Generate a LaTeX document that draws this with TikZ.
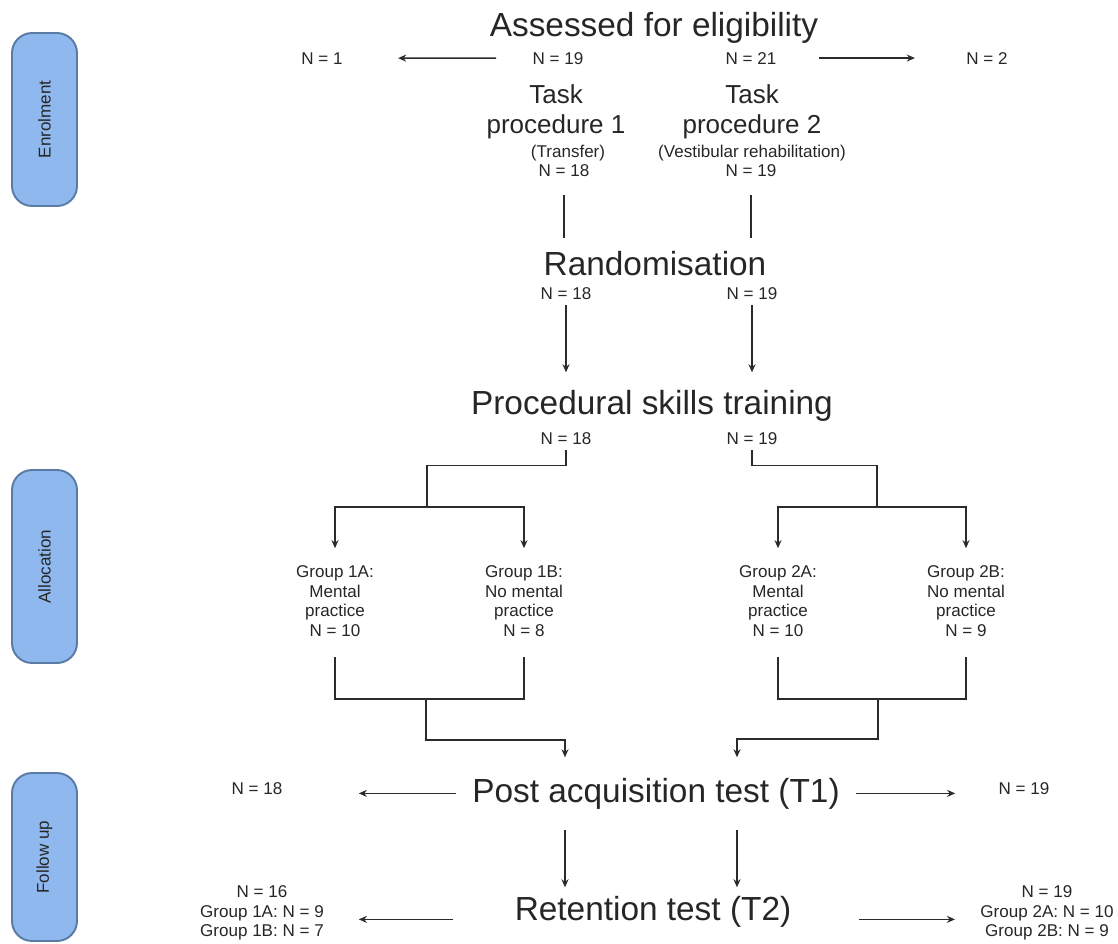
\documentclass[tikz,border=0pt]{standalone}
\usepackage{fontspec}
\setmainfont{Liberation Sans}
\usetikzlibrary{arrows.meta}

\definecolor{testo}{HTML}{262626}
\definecolor{linea}{HTML}{2B2B2B}
\definecolor{fasefill}{HTML}{8FB8EE}
\definecolor{fasebordo}{HTML}{5A7BA3}

\begin{document}
\begin{tikzpicture}[x=0.02cm, y=-0.02cm,
  every node/.style={inner sep=0pt, outer sep=0pt, text=testo},
  big/.style={font=\fontsize{19}{22}\selectfont},
  mid/.style={font=\fontsize{14.8}{17.1}\selectfont, align=center},
  num/.style={font=\fontsize{9.7}{11.1}\selectfont},
  lst/.style={num, align=center},
  phasebox/.style={num, rotate=90, draw=fasebordo, fill=fasefill, line width=1.1pt, rounded corners=0.4cm, minimum height=1.3cm},
  linea/.style={draw=linea, line width=0.75pt},
  arr/.style={linea, -{Stealth[length=4.6pt,width=4pt]}}]

\useasboundingbox (0,0) rectangle (1118,943);

% fasi
\node[phasebox, minimum width=3.46cm] (enrol) at (44.5,119.5) {Enrolment};
\node[phasebox, minimum width=3.86cm] (alloc) at (44.5,566.5) {Allocation};
\node[phasebox, minimum width=3.36cm] (follow) at (44.5,857) {Follow up};

\node[big, anchor=base] (assess) at (654,36) {Assessed for eligibility};
\node[num, anchor=base] (an1) at (558,64) {N = 19};
\node[num, anchor=base] (an2) at (751,64) {N = 21};
\node[num, anchor=base] (ex1) at (322,64) {N = 1};
\node[num, anchor=base] (ex2) at (987,64) {N = 2};

\node[mid] (task1) at (556,112) {Task\\procedure 1};
\node[num] (t1sub) at (568,153) {(Transfer)};
\node[num, anchor=base] (t1n) at (564,176) {N = 18};
\node[mid] (task2) at (752,112) {Task\\procedure 2};
\node[num] (t2sub) at (752,153) {(Vestibular rehabilitation)};
\node[num, anchor=base] (t2n) at (751,176) {N = 19};

\node[big, anchor=base] (rand) at (655,275) {Randomisation};
\node[num, anchor=base] (rn1) at (566,299) {N = 18};
\node[num, anchor=base] (rn2) at (752,299) {N = 19};

\node[big, anchor=base] (proc) at (652,414) {Procedural skills training};
\node[num, anchor=base] (pn1) at (566,444) {N = 18};
\node[num, anchor=base] (pn2) at (752,444) {N = 19};

\node[lst] (g1a) at (335,601) {Group 1A:\\Mental\\practice\\N = 10};
\node[lst] (g1b) at (524,601) {Group 1B:\\No mental\\practice\\N = 8};
\node[lst] (g2a) at (778,601) {Group 2A:\\Mental\\practice\\N = 10};
\node[lst] (g2b) at (966,601) {Group 2B:\\No mental\\practice\\N = 9};

\node[big, anchor=base] (post) at (656,802) {Post acquisition test (T1)};
\node[num, anchor=base] (qn1) at (257,794) {N = 18};
\node[num, anchor=base] (qn2) at (1024,794) {N = 19};

\node[big, anchor=base] (ret) at (653,920) {Retention test (T2)};
\node[lst] (rl) at (262,913) {N = 16\\Group 1A: N = 9\\Group 1B: N = 7};
\node[lst] (rr) at (1047,913) {N = 19\\Group 2A: N = 10\\Group 2B: N = 9};

\coordinate (sp1) at (427,507);
\coordinate (sp2) at (877,507);
\coordinate (mg1) at (426,699);
\coordinate (mg2) at (878,699);
\coordinate (cl) at (565,0);
\coordinate (cr) at (737,0);

% Archi
\draw[arr, shorten <=0.73cm, shorten >=1.11cm] (an1.west) -- (ex1.east);
\draw[arr, shorten <=0.85cm, shorten >=1.03cm] (an2.east) -- (ex2.west);

\draw[linea, shorten <=0.38cm, shorten >=0.25cm] (t1n.south) -- (t1n.south |- rand.north);
\draw[linea, shorten <=0.38cm, shorten >=0.25cm] (t2n.south) -- (t2n.south |- rand.north);

\draw[arr, shorten <=0.12cm, shorten >=0.35cm] (rn1.south) -- (rn1.south |- proc.north);
\draw[arr, shorten <=0.12cm, shorten >=0.35cm] (rn2.south) -- (rn2.south |- proc.north);

\draw[linea] (pn1.south) ++(0,6) -- ++(0,15) -| (sp1);
\draw[arr, shorten >=0.35cm] (sp1) -| (g1a.north);
\draw[arr, shorten >=0.35cm] (sp1) -| (g1b.north);
\draw[linea] (pn2.south) ++(0,6) -- ++(0,15) -| (sp2);
\draw[arr, shorten >=0.35cm] (sp2) -| (g2a.north);
\draw[arr, shorten >=0.35cm] (sp2) -| (g2b.north);

\draw[linea] (g1a.south) ++(0,21) |- (mg1);
\draw[linea] (g1b.south) ++(0,21) |- (mg1);
\draw[arr, shorten >=0.41cm] (mg1) -- ++(0,41) -| (cl |- post.north);
\draw[linea] (g2a.south) ++(0,21) |- (mg2);
\draw[linea] (g2b.south) ++(0,21) |- (mg2);
\draw[arr, shorten >=0.41cm] (mg2) -- ++(0,40) -| (cr |- post.north);

\draw[arr, shorten <=0.32cm, shorten >=1.53cm] (post.west) -- (post.west -| qn1.east);
\draw[arr, shorten <=0.32cm, shorten >=0.87cm] (post.east) -- (post.east -| qn2.west);

\draw[arr, shorten <=0.42cm, shorten >=0.17cm] (cl |- post.south) -- (cl |- ret.north);
\draw[arr, shorten <=0.42cm, shorten >=0.17cm] (cr |- post.south) -- (cr |- ret.north);

\draw[arr, shorten <=1.24cm, shorten >=0.7cm] ([yshift=-0.16cm]ret.west) -- ([yshift=-0.16cm]ret.west -| rl.east);
\draw[arr, shorten <=1.36cm, shorten >=0.51cm] ([yshift=-0.16cm]ret.east) -- ([yshift=-0.16cm]ret.east -| rr.west);

\end{tikzpicture}
\end{document}
